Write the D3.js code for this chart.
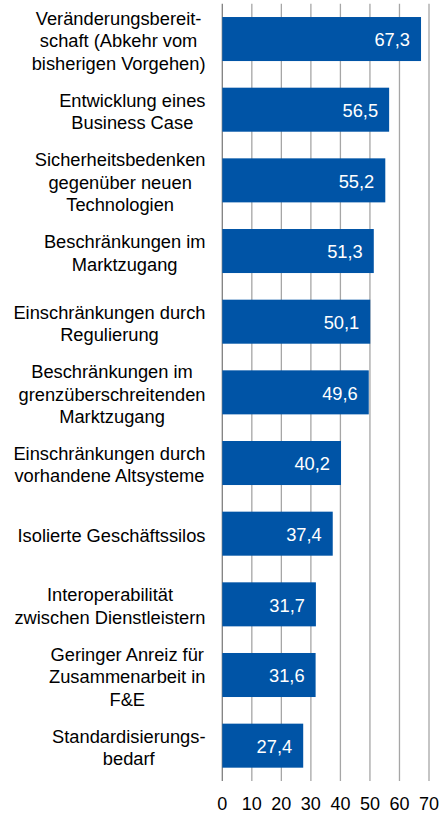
<!DOCTYPE html>
<html><head><meta charset="utf-8">
<script src="https://cdn.jsdelivr.net/npm/d3@7"></script>
<style>html,body{margin:0;padding:0;background:#fff;}svg{display:block;}</style>
</head><body>
<script>
const categories = [
  "Veränderungsbereit-|schaft (Abkehr vom|bisherigen Vorgehen)",
  "Entwicklung eines|Business Case",
  "Sicherheitsbedenken|gegenüber neuen|Technologien",
  "Beschränkungen im|Marktzugang",
  "Einschränkungen durch|Regulierung",
  "Beschränkungen im|grenzüberschreitenden|Marktzugang",
  "Einschränkungen durch|vorhandene Altsysteme",
  "Isolierte Geschäftssilos",
  "Interoperabilität|zwischen Dienstleistern",
  "Geringer Anreiz für|Zusammenarbeit in|F&E",
  "Standardisierungs-|bedarf"
];
const values = [67.3, 56.5, 55.2, 51.3, 50.1, 49.6, 40.2, 37.4, 31.7, 31.6, 27.4];
const tickValues = [0, 10, 20, 30, 40, 50, 60, 70];

const W = 439, H = 814;
const font = "'Liberation Sans', Arial, sans-serif";
const svg = d3.select("body").append("svg").attr("width", W).attr("height", H);

const x = d3.scaleLinear().domain([0, 70]).range([222.3, 429]);
const y = d3.scaleBand().domain(d3.range(categories.length)).range([3.7, 781])
  .paddingInner(0.377).paddingOuter(0.1885);

// gridlines
svg.append("g").selectAll("line").data(tickValues).join("line")
  .attr("x1", d => x(d)).attr("x2", d => x(d))
  .attr("y1", 3.7).attr("y2", 781)
  .attr("stroke", d => d === 0 ? "#7f7f7f" : "#a6a6a6")
  .attr("stroke-width", 1.3);

// bars
svg.append("g").selectAll("rect").data(values).join("rect")
  .attr("x", x(0)).attr("y", (d, i) => y(i))
  .attr("width", d => x(d) - x(0)).attr("height", y.bandwidth())
  .attr("fill", "#0054a6");

// value labels
svg.append("g").selectAll("text").data(values).join("text")
  .attr("x", d => x(d) - 11).attr("y", (d, i) => y(i) + y.bandwidth() / 2)
  .attr("dy", "0.4em").attr("text-anchor", "end")
  .attr("fill", "#fff").attr("font-family", font).attr("font-size", 18.3)
  .text(d => d.toFixed(1).replace(".", ","));

// category labels
const lh = 22.5;
const labelRight = 205.5;
categories.forEach((c, i) => {
  const lines = c.split("|");
  const g = svg.append("g");
  const cy = y(i) + y.bandwidth() / 2;
  const texts = lines.map((ln, k) => g.append("text")
    .attr("y", cy + (k - (lines.length - 1) / 2) * lh)
    .attr("dy", "0.45em").attr("text-anchor", "middle")
    .attr("font-family", font).attr("font-size", 18.3).attr("fill", "#000")
    .text(ln));
  const maxW = d3.max(texts, t => t.node().getComputedTextLength());
  texts.forEach(t => t.attr("x", labelRight - maxW / 2));
});

// x axis tick labels
svg.append("g").selectAll("text").data(tickValues).join("text")
  .attr("x", d => x(d)).attr("y", 803).attr("dy", "0.38em")
  .attr("text-anchor", "middle").attr("font-family", font).attr("font-size", 18)
  .attr("fill", "#000").text(d => d);
</script>
</body></html>
